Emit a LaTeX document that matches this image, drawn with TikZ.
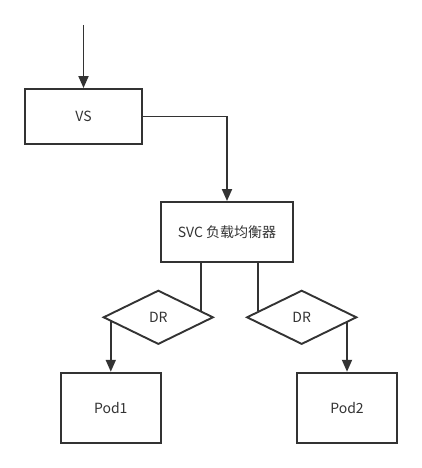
\documentclass[tikz,border=0pt]{standalone}
\usepackage{fontspec}
\setmainfont{Noto Sans CJK SC}
\usetikzlibrary{shapes.geometric,arrows.meta}
\definecolor{ink}{HTML}{333333}
\begin{document}
\begin{tikzpicture}[x=1pt,y=-1pt,
  box/.style={draw=ink,line width=1.9pt,rectangle,inner sep=0pt,text=ink,font=\fontsize{14}{16}\selectfont},
  drbox/.style={draw=ink,line width=1.9pt,diamond,inner sep=0pt,minimum width=110pt,minimum height=54pt,text=ink,font=\fontsize{14}{16}\selectfont},
  link/.style={draw=ink,line width=1.9pt},
  arr/.style={link,-{Triangle[length=12pt,width=10pt]}}]
\useasboundingbox (0,0) rectangle (422,468);
\node[box,minimum width=117pt,minimum height=55pt] (vs) at (83.5,116.5) {VS};
\node[box,minimum width=132.5pt,minimum height=60pt] (svc) at (227,232) {SVC 负载均衡器};
\node[drbox] (dr1) at (158.3,317.3) {DR};
\node[drbox] (dr2) at (301.7,317.3) {DR};
\node[box,minimum width=100.5pt,minimum height=70pt] (pod1) at (110.8,407.7) {Pod1};
\node[box,minimum width=100.5pt,minimum height=70pt] (pod2) at (347,407.7) {Pod2};
\coordinate (in) at (83.5,25);
\draw[arr] (in) -- (vs.north);
\draw[arr] (vs.east) -| (svc.north);
\draw[link] ([xshift=-26pt]svc.south) -- ([xshift=-26pt]svc.south |- dr1.8);
\draw[link] ([xshift=31.3pt]svc.south) -- ([xshift=31.3pt]svc.south |- dr2.172.5);
\draw[arr] (pod1.north |- dr1.184) -- (pod1.north);
\draw[arr] (pod2.north |- dr2.354) -- (pod2.north);
\end{tikzpicture}
\end{document}
